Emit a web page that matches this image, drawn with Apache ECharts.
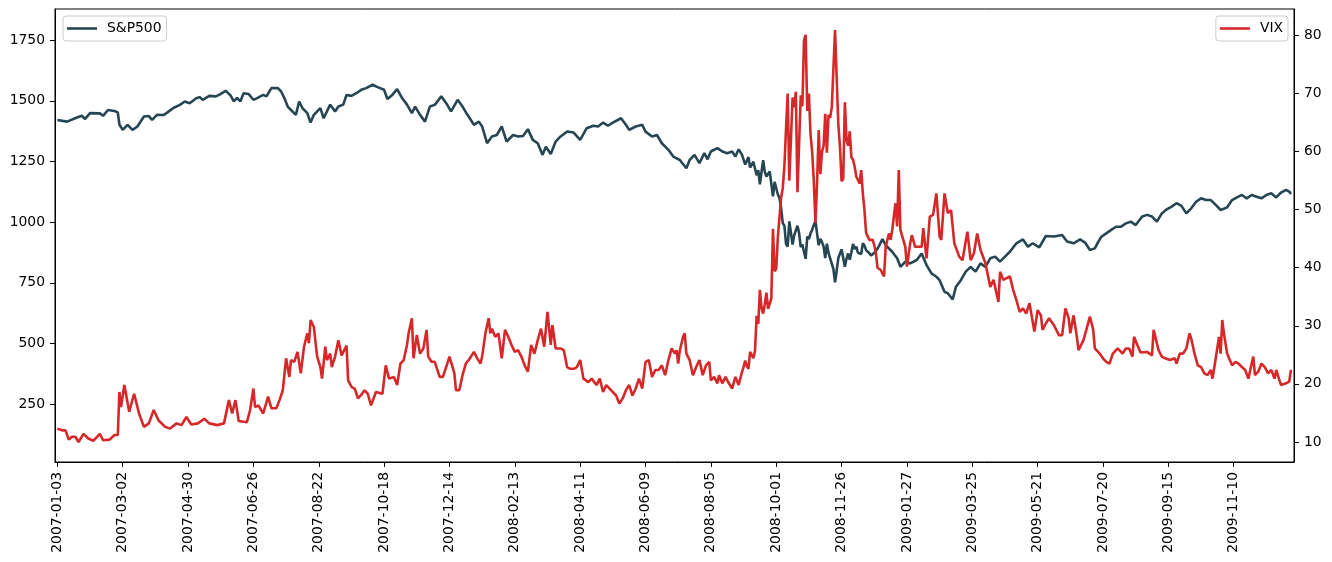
<!DOCTYPE html>
<html><head><meta charset="utf-8">
<script src="https://cdn.jsdelivr.net/npm/echarts@6/dist/echarts.min.js"></script>
<style>html,body{margin:0;padding:0;background:#fff}#c{width:1332px;height:562px}</style>
</head><body><div id="c"></div>
<script>
// x tick labels: every 40th trading day starting 2007-01-03
const tickLabels = ['2007-01-03','2007-03-02','2007-04-30','2007-06-26','2007-08-22','2007-10-18','2007-12-14',
  '2008-02-13','2008-04-11','2008-06-09','2008-08-05','2008-10-01','2008-11-26','2009-01-27','2009-03-25',
  '2009-05-21','2009-07-20','2009-09-15','2009-11-10'];
const tickStep = 40;
const leftTicks = [250, 500, 750, 1000, 1250, 1500, 1750];
const rightTicks = [10, 20, 30, 40, 50, 60, 70, 80];

// [trading-day index, S&P500 close]
const spxPoints = [[0,1421],[6,1414],[12,1431],[15,1438],[17,1425],[20,1449],[26,1448],[28,1438],[31,1462],[35,1458],[37,1452],[38,1402],[40,1380],[43,1401],[46,1380],[49,1394],[53,1435],[56,1437],[58,1421],[61,1442],[65,1441],[67,1450],[71,1470],[75,1483],[78,1497],[81,1490],[85,1510],[87,1515],[89,1504],[93,1520],[97,1518],[99,1524],[103,1541],[106,1522],[108,1497],[110,1512],[112,1497],[114,1531],[117,1528],[120,1504],[122,1510],[126,1524],[128,1518],[131,1552],[135,1552],[137,1538],[139,1510],[141,1476],[143,1462],[146,1442],[148,1497],[150,1470],[153,1449],[155,1410],[157,1442],[161,1470],[163,1428],[167,1484],[170,1456],[172,1476],[175,1484],[177,1524],[180,1520],[183,1531],[186,1545],[189,1552],[193,1566],[196,1556],[200,1545],[202,1507],[205,1524],[208,1548],[211,1511],[214,1484],[217,1449],[219,1476],[222,1442],[225,1414],[228,1476],[231,1483],[235,1518],[238,1490],[241,1456],[245,1504],[248,1476],[251,1442],[255,1401],[258,1414],[260,1394],[263,1325],[266,1353],[269,1359],[272,1394],[275,1332],[279,1359],[282,1353],[285,1355],[288,1383],[291,1339],[294,1325],[297,1277],[299,1311],[302,1281],[305,1332],[308,1353],[312,1373],[316,1369],[320,1339],[324,1387],[328,1397],[331,1394],[334,1410],[337,1397],[340,1410],[345,1428],[348,1401],[350,1380],[354,1394],[358,1401],[360,1373],[364,1353],[367,1359],[370,1325],[374,1298],[377,1270],[381,1256],[385,1222],[387,1256],[390,1277],[393,1243],[396,1284],[398,1259],[400,1291],[404,1305],[407,1291],[410,1284],[413,1291],[415,1270],[417,1300],
[419,1278],[420,1275],[421,1237],[422,1242],[423,1268],[424,1225],[425,1232],[426,1249],[427,1252],[428,1193],[429,1214],[430,1156],[431,1207],[432,1255],[433,1207],[434,1188],[435,1186],[436,1209],[437,1213],[438,1106],[439,1166],
[440,1161],[441,1114],[442,1099],[443,1057],[444,996],[445,985],[446,910],[447,899],[448,1003],[449,998],[450,908],[451,946],[452,941],[453,985],[454,955],[455,897],[456,908],[457,877],[458,849],[459,941],[460,930],[461,954],[462,969],[463,966],[464,1006],[465,953],[466,905],[467,931],[468,919],[469,899],[470,852],[471,911],[472,873],[473,851],[474,859],[475,807],[476,752],[477,800],[478,852],[479,857],[480,888],[481,896],[482,816],[483,849],[484,871],[485,845],[486,876],[487,910],[488,889],[489,899],[490,874],[491,880],[492,869],[493,913],[494,904],[495,885],[496,888],[497,872],[498,863],[499,868],[500,873],[501,869],[502,891],[503,903],
[505,930],[507,905],[511,878],[514,851],[516,816],[519,837],[522,830],[526,844],[529,871],[532,823],[535,789],[538,775],[540,761],[543,713],[545,707],[548,682],[550,734],[553,761],[556,796],[559,816],[562,796],[565,830],[568,816],[571,851],[574,858],[577,837],[580,858],[583,878],[587,913],[591,929],[594,899],[597,913],[601,896],[605,943],[610,941],[615,947],[618,920],[622,913],[626,929],[629,916],[632,885],[635,892],[637,918],[639,940],[642,954],[645,968],[648,981],[651,981],[654,995],[657,1002],[660,988],[664,1023],[667,1030],[670,1023],[673,1002],[676,1036],[679,1053],[682,1064],[685,1078],[688,1067],[691,1036],[694,1057],[697,1084],[700,1098],[703,1091],[706,1091],[709,1071],[712,1050],[716,1061],[719,1091],[722,1102],[725,1112],[728,1098],[731,1112],[734,1105],[737,1098],[740,1112],[743,1119],[746,1102],[749,1122],[752,1133],[754,1126],[755,1116]];

// [trading-day index, VIX close]
const vixPoints = [[0,12.3],[3,12.0],[5,12.0],[7,10.4],[9,10.9],[11,10.9],[13,10.0],[16,11.4],[19,10.6],[22,10.2],[26,11.4],[28,10.3],[32,10.4],[35,11.2],[37,11.2],[38,18.6],[39,16.0],[41,19.8],[44,15.2],[47,18.3],[50,14.9],[53,12.6],[56,13.2],[59,15.5],[62,13.7],[66,12.6],[69,12.3],[73,13.2],[76,12.9],[79,14.3],[82,13.0],[86,13.2],[90,14.0],[93,13.2],[98,12.9],[102,13.2],[105,17.2],[107,14.9],[109,17.2],[111,13.6],[116,13.4],[118,15.5],[120,19.2],[121,16.0],[123,16.3],[126,14.9],[129,17.8],[131,15.8],[134,15.8],[136,17.2],[138,18.9],[140,24.4],[142,21.2],[143,24.1],[145,23.8],[147,25.5],[149,21.8],[151,26.4],[153,28.7],[154,27.0],[155,31.0],[157,29.8],[159,24.7],[161,22.9],[162,20.9],[164,26.4],[165,24.1],[167,25.2],[168,22.9],[170,24.7],[172,27.5],[174,24.9],[177,26.6],[178,20.6],[180,19.5],[182,19.2],[184,17.5],[186,18.1],[188,18.9],[190,18.3],[192,16.3],[195,18.6],[199,18.3],[201,23.2],[203,20.9],[206,21.2],[208,19.8],[210,23.5],[212,24.1],[214,26.7],[215,28.7],[217,31.3],[218,24.4],[220,28.4],[222,25.2],[224,26.1],[226,29.3],[227,24.7],[229,23.8],[231,23.8],[234,21.2],[236,21.2],[238,22.9],[240,24.7],[243,21.8],[244,18.9],[246,18.9],[248,21.5],[250,23.5],[252,24.2],[255,25.5],[257,24.4],[259,23.5],[260,24.7],[262,28.7],[264,31.3],[265,28.7],[266,29.5],[268,28.1],[270,28.7],[272,24.4],[274,29.3],[276,28.1],[278,26.7],[280,25.5],[282,25.8],[284,24.7],[286,23.2],[288,22.1],[290,26.7],[292,25.2],[294,27.5],[296,29.5],[298,26.4],[300,32.4],[302,26.7],[303,30.1],[305,26.1],[308,26.1],[310,25.8],[312,22.9],[314,22.6],[316,22.6],[318,22.9],[320,24.1],[322,20.9],[325,20.3],[327,20.9],[330,19.8],[332,20.9],[334,18.6],[336,19.8],[339,18.9],[342,18.0],[344,16.6],[346,17.5],[348,18.9],[350,19.8],[352,18.0],[354,19.2],[356,20.9],[358,19.2],[360,23.8],[362,24.1],[364,21.2],[366,22.4],[368,22.4],[370,23.2],[372,21.5],[374,24.1],[376,26.1],[378,25.2],[379,25.8],[380,23.5],[381,25.8],[383,28.1],[384,28.7],[385,25.2],[387,24.1],[389,21.5],[391,22.9],[393,24.1],[395,21.5],[397,23.2],[399,23.8],[400,20.6],[402,21.2],[404,20.1],[405,21.5],[407,20.1],[409,21.2],[411,20.1],[413,19.2],[415,21.2],[417,19.8],
[419,22.0],[420,22.9],[421,24.0],[422,23.1],[423,22.6],[424,25.5],[425,25.0],[426,24.4],[427,25.7],[428,31.7],[429,30.3],[430,36.2],[431,33.1],[432,32.1],[433,33.7],[434,35.7],[435,32.9],[436,32.8],[437,34.7],[438,46.7],[439,39.4],
[440,39.8],[441,45.3],[442,45.1],[443,52.1],[444,53.7],[445,57.5],[446,63.9],[447,70.0],[448,55.0],[449,55.1],[450,69.3],[451,67.6],[452,70.3],[453,53.0],[454,53.1],[455,69.7],[456,67.8],[457,79.1],[458,80.1],[459,67.0],[460,70.0],[461,62.9],[462,59.9],[463,54.9],[464,47.7],[465,54.6],[466,63.7],[467,56.1],[468,60.0],[469,61.0],[470,66.5],[471,59.8],[472,66.3],[473,65.8],[474,67.6],[475,74.3],[476,80.9],[477,72.7],[478,64.7],[479,60.9],[480,54.9],[481,55.3],
[482,68.5],[483,62.0],[484,61.0],[485,63.5],[486,59.0],[487,58.6],[488,57.4],[489,55.7],[490,56.0],[491,54.5],[492,56.8],[493,52.8],[494,49.9],[495,46.0],[496,45.4],[497,44.8],[499,44.8],[500,43.9],[501,42.5],[502,40.0],[503,40.0],
[504,39.6],[505,39.0],[506,38.5],[507,43.6],[508,43.3],[509,45.9],[510,44.8],[511,46.5],[513,51.1],[514,47.1],[515,56.8],[516,46.5],[517,46.5],[519,43.6],[520,40.2],[522,44.2],[523,45.6],[525,43.6],[527,43.6],[529,43.6],[530,46.8],[532,41.6],[534,48.8],[536,49.1],[538,52.8],[540,45.4],[541,44.8],[543,52.8],[545,49.4],[547,49.9],[549,44.2],[552,41.9],[554,41.3],[557,46.2],[559,41.3],[561,42.5],[563,45.9],[565,43.1],[568,40.8],[571,36.7],[573,37.9],[576,34.1],[577,39.3],[579,37.9],[581,38.2],[583,38.5],[585,36.2],[587,34.4],[589,32.4],[591,33.0],[593,32.1],[595,33.9],[598,29.0],[600,32.7],[602,31.8],[603,29.3],[605,30.4],[607,31.3],[610,30.1],[613,28.4],[615,28.4],[617,33.0],[619,31.3],[620,28.7],[622,31.8],[624,28.1],[625,25.8],[628,27.5],[630,29.5],[632,31.6],[634,29.3],[635,26.1],[636,25.8],[638,25.2],[640,24.4],[642,23.8],[644,23.5],[646,25.2],[649,26.1],[652,25.2],[654,26.1],[656,26.1],[658,24.7],[659,28.1],[661,26.7],[663,25.4],[667,25.5],[670,24.9],[671,29.3],[672,29.0],[674,25.8],[676,24.7],[678,24.4],[681,24.1],[684,24.4],[685,23.5],[687,25.2],[689,25.2],[691,26.1],[693,28.7],[694,27.8],[696,25.2],[698,23.2],[700,22.9],[702,21.8],[704,21.5],[706,22.4],[707,20.9],[709,24.4],[711,28.1],[712,25.2],[713,31.0],[714,28.7],[716,25.2],[719,23.2],[721,23.8],[723,23.5],[725,22.9],[727,22.4],[729,20.9],[730,20.9],[731,23.5],[732,24.7],[733,21.5],[735,22.1],[737,23.5],[739,22.9],[741,21.8],[743,22.4],[745,20.9],[746,22.4],[748,20.6],[749,19.8],[752,20.1],[754,20.4],[755,22.4]];

const FONT = 'DejaVu Sans';
const chart = echarts.init(document.getElementById('c'), null, {renderer: 'canvas'});
const tickStyle = {color: '#000', width: 1};
const legendCommon = {
  top: 16, orient: 'horizontal', icon: 'rect', itemWidth: 30, itemHeight: 2.6,
  padding: [5, 5, 5, 4], borderColor: '#cccccc', borderWidth: 1, borderRadius: 3,
  backgroundColor: 'rgba(255,255,255,0.8)',
  textStyle: {fontFamily: FONT, fontSize: 13.9, color: '#000', padding: [0, 0, 0, 5], lineHeight: 15}
};
const xTicks = tickLabels.map((_, i) => i * tickStep);
chart.setOption({
  animation: false,
  backgroundColor: '#fff',
  grid: {left: 55, right: 38, top: 9, bottom: 100, show: true, borderColor: '#000', borderWidth: 1, backgroundColor: 'transparent'},
  legend: [
    Object.assign({data: ['S&P500'], left: 63}, legendCommon),
    Object.assign({data: ['VIX'], right: 44}, legendCommon)
  ],
  xAxis: {
    type: 'value', min: -1.43, max: 756.9,
    axisLine: {show: true, onZero: false, lineStyle: tickStyle},
    axisTick: {show: true, length: 5, lineStyle: tickStyle, customValues: xTicks},
    splitLine: {show: false},
    axisLabel: {
      rotate: 90, margin: 10, fontFamily: FONT, fontSize: 13.9, color: '#000',
      customValues: xTicks,
      formatter: v => tickLabels[Math.round(v / tickStep)] || ''
    }
  },
  yAxis: [
    {
      type: 'value', position: 'left', min: 12.1, max: 1877.9,
      axisLine: {show: true, onZero: false, lineStyle: tickStyle},
      axisTick: {show: true, length: 5, lineStyle: tickStyle, customValues: leftTicks},
      splitLine: {show: false},
      axisLabel: {margin: 10, fontFamily: FONT, fontSize: 13.9, color: '#000', customValues: leftTicks,
                  formatter: v => String(Math.round(v))}
    },
    {
      type: 'value', position: 'right', min: 6.55, max: 84.54,
      axisLine: {show: true, onZero: false, lineStyle: tickStyle},
      axisTick: {show: true, length: 5, lineStyle: tickStyle, customValues: rightTicks},
      splitLine: {show: false},
      axisLabel: {margin: 10, fontFamily: FONT, fontSize: 13.9, color: '#000', customValues: rightTicks,
                  formatter: v => String(Math.round(v))}
    }
  ],
  series: [
    {name: 'S&P500', type: 'line', yAxisIndex: 0, data: spxPoints, symbol: 'none', showSymbol: false,
     lineStyle: {color: '#264653', width: 2.6}, itemStyle: {color: '#264653'}},
    {name: 'VIX', type: 'line', yAxisIndex: 1, data: vixPoints, symbol: 'none', showSymbol: false,
     lineStyle: {color: '#d62828', width: 2.6}, itemStyle: {color: '#d62828'}}
  ]
});
</script></body></html>
